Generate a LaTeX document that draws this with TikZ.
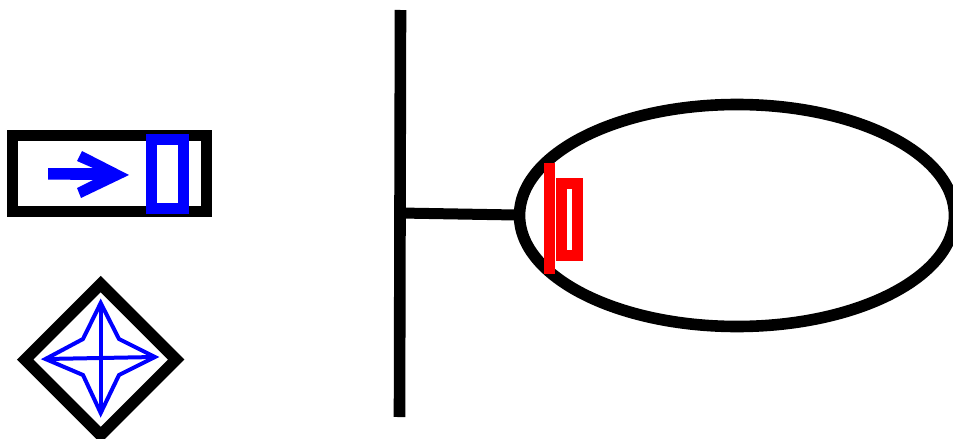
\documentclass[tikz,border=0pt]{standalone}
\tikzset{
  heavy/.style={line width=11pt,miter limit=10,line cap=butt},
  blk/.style={heavy,draw=black},
  blkwide/.style={line width=11.6pt,draw=black,miter limit=10},
  blu/.style={heavy,draw=blue},
  rd/.style={heavy,draw=red},
  thinblu/.style={line width=4pt,draw=blue,miter limit=10}
}
\begin{document}
\begin{tikzpicture}[x=1pt,y=-1pt]
\useasboundingbox (0,0) rectangle (953,439);
\clip (0,0) rectangle (953,439);
% left rectangle
\draw[blk] (12.5,135) rectangle (206.5,211);
\draw[blu] (151.5,139) rectangle (183.5,208);
\fill[blue] (48,168) -- (93,168) -- (77,161) -- (82,151) -- (129,175) -- (81,198) -- (77,188) -- (93,180) -- (48,179.5) -- cycle;
% diamond
\draw[blkwide] (100.7,284) -- (176.2,359.5) -- (100.7,435) -- (25.2,359.5) -- cycle;
\draw[thinblu] (100.7,303) -- (119,339) -- (155,357) -- (119,375) -- (100.7,413) -- (83,375) -- (45.5,359) -- (83,339) -- cycle;
\draw[thinblu] (100.7,303) -- (100.7,413);
\draw[thinblu] (45.5,359) -- (155,357);
% stem
\draw[blkwide] (400.5,10) -- (399.5,417);
\draw[blk] (400,213) -- (516,215);
% ellipse
\draw[blkwide] (737,215.5) ellipse [x radius=217.5,y radius=111];
% red
\draw[rd] (561,183.5) rectangle (577.5,255.5);
\draw[rd] (549,163) -- (549,274);
\end{tikzpicture}
\end{document}
